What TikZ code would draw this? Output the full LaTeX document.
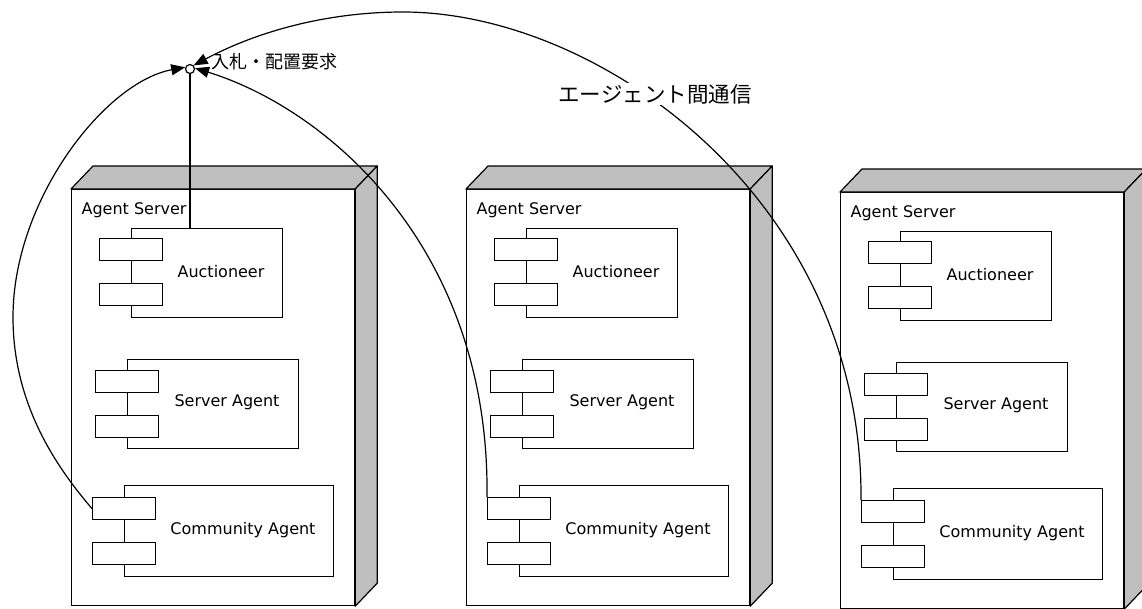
\documentclass[tikz,border=0pt]{standalone}
\usepackage{fontspec}
\setmainfont{DejaVu Sans}
\newfontfamily\jpfont{Noto Sans CJK JP}
\usetikzlibrary{arrows.meta,calc}
\newcommand\agentserver[3]{%
 \begin{scope}[shift={(#2,#3)}, name prefix=#1-]
  \node[srv] (srv) at (71,189) {};
  \filldraw[face] (srv.north west) -- ++(22,-23) -- ($(srv.north east)+(22,-23)$) -- (srv.north east) -- cycle;
  \filldraw[face] (srv.north east) -- ++(22,-23) -- ($(srv.south east)+(22,-23)$) -- (srv.south east) -- cycle;
  \node[lbl, anchor=west] (srvt) at (81,210) {Agent Server};
  \node[comp, minimum width=151pt] (a) at (131,228) {};
  \node[port] (as1) at (99,238) {};
  \node[port] (as2) at (99,283) {};
  \node[lbl] (at) at (221,272) {Auctioneer};
  \node[comp, minimum width=171pt] (s) at (127,359) {};
  \node[port] (ss1) at (95,370) {};
  \node[port] (ss2) at (95,415) {};
  \node[lbl] (st) at (227,402) {Server Agent};
  \node[comp, minimum width=209pt, minimum height=91pt] (c) at (124,485) {};
  \node[port] (cs1) at (92,497) {};
  \node[port] (cs2) at (92,542) {};
  \node[lbl] (ct) at (243,530) {Community Agent};
 \end{scope}}
\begin{document}
\begin{tikzpicture}[x=1pt,y=-1pt, line width=1.2pt,
  srv/.style={draw, fill=white, minimum width=283pt, minimum height=416pt, anchor=north west, inner sep=0pt},
  face/.style={draw, fill=black!25, line join=round},
  comp/.style={draw, fill=white, anchor=north west, inner sep=0pt, minimum height=89pt},
  port/.style={draw, fill=white, anchor=north west, inner sep=0pt, minimum width=63pt, minimum height=22pt},
  lbl/.style={font=\fontsize{16}{19}\selectfont, inner sep=0pt},
  arr/.style={line width=1.2pt, -{Triangle[length=14pt,width=11pt]}}
]
\useasboundingbox (0,0) rectangle (1142,608);
\agentserver{b1}{0}{0}
\agentserver{b2}{395}{0}
\agentserver{b3}{769}{3}

\node[circle, draw, fill=white, minimum size=9pt, inner sep=0pt] (hub) at (190,69) {};
\draw (hub.south) -- (hub.south |- b1-a.north);

\coordinate (lp) at (13,317);
\coordinate (tp) at (403,12);
\draw[arr] (b1-cs1.west) .. controls (52,462) and (13,400) .. (lp)
  .. controls (13,200) and (105,82) .. (hub.160);
\draw[arr] (b2-cs1.north west) .. controls (490,250) and (330,110) .. (hub.10);
\draw[arr] (b3-cs1.north west) .. controls (863,200) and (600,12) .. (tp)
  .. controls (330,12) and (260,30) .. (hub.45);

\node[font=\jpfont\fontsize{18}{21}\selectfont, anchor=west, inner sep=0pt] (req) at (211,62) {入札・配置要求};
\node[font=\jpfont\fontsize{21.5}{24}\selectfont, fill=white, inner sep=1pt] (comm) at (655,94) {エージェント間通信};
\end{tikzpicture}
\end{document}
